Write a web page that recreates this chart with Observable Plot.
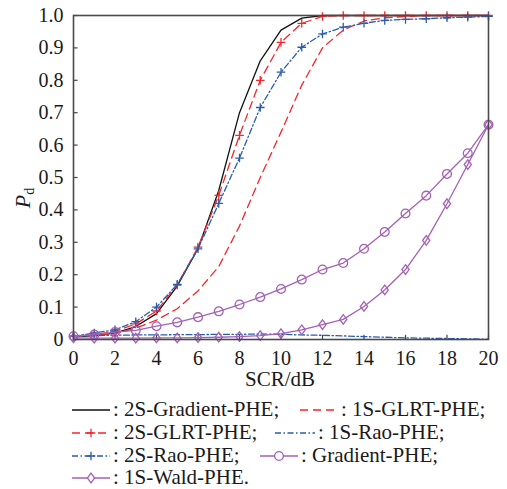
<!DOCTYPE html>
<html><head><meta charset="utf-8">
<script src="https://cdn.jsdelivr.net/npm/d3@7"></script>
<script src="https://cdn.jsdelivr.net/npm/@observablehq/plot@0.6"></script>
<style>
body{margin:0;background:#fff;font-family:'Liberation Serif',serif;}
#wrap{position:relative;width:507px;height:489px;overflow:hidden;}
.item{position:absolute;display:flex;align-items:center;height:23px;font-size:21px;color:#1a1a1a;white-space:nowrap;font-family:'Liberation Serif',serif;}
.item svg{display:block;margin-right:3px;}
</style></head><body><div id="wrap"><div id="chart"></div></div>
<script>
const scr = [0,1,2,3,4,5,6,7,8,9,10,11,12,13,14,15,16,17,18,19,20];
const grad2S   = [0.008,0.012,0.02,0.04,0.08,0.165,0.28,0.46,0.70,0.86,0.955,0.992,1,1,1,1,1,1,1,1,1];
const glrt1S   = [0.01,0.012,0.018,0.035,0.06,0.095,0.15,0.225,0.35,0.50,0.64,0.785,0.90,0.955,0.983,0.993,0.997,1,1,1,1];
const glrt2S   = [0.01,0.015,0.025,0.048,0.088,0.168,0.285,0.445,0.63,0.80,0.917,0.976,0.997,1,1,1,1,1,1,1,1];
const rao1S    = [0.01,0.012,0.013,0.014,0.014,0.015,0.015,0.016,0.016,0.017,0.016,0.014,0.013,0.011,0.009,0.007,0.005,0.004,0.003,0.002,0.001];
const rao2S    = [0.01,0.02,0.03,0.055,0.10,0.17,0.28,0.42,0.56,0.716,0.825,0.902,0.943,0.964,0.976,0.985,0.988,0.99,0.993,0.995,0.997];
const gradient = [0.01,0.015,0.023,0.028,0.041,0.053,0.069,0.087,0.108,0.131,0.156,0.185,0.216,0.236,0.28,0.332,0.389,0.444,0.511,0.575,0.663];
const wald1S   = [0.005,0.004,0.004,0.004,0.005,0.005,0.006,0.007,0.009,0.012,0.018,0.03,0.046,0.062,0.102,0.153,0.216,0.306,0.419,0.54,0.663];
const xTicks = [0,2,4,6,8,10,12,14,16,18,20];
const yTicks = [0,0.1,0.2,0.3,0.4,0.5,0.6,0.7,0.8,0.9,1.0];
const legendNames = ["2S-Gradient-PHE","1S-GLRT-PHE","2S-GLRT-PHE","1S-Rao-PHE","2S-Rao-PHE","Gradient-PHE","1S-Wald-PHE"];

const FONT = "'Liberation Serif', serif";
const plusSym = {draw(ctx){const r=4.3; ctx.moveTo(-r,0); ctx.lineTo(r,0); ctx.moveTo(0,-r); ctx.lineTo(0,r);}};
const diamondSym = {draw(ctx){const h=4.8,w=3.6; ctx.moveTo(0,-h); ctx.lineTo(w,0); ctx.lineTo(0,h); ctx.lineTo(-w,0); ctx.closePath();}};
const circleSym = {draw(ctx){const r=4.4; ctx.moveTo(r,0); ctx.arc(0,0,r,0,2*Math.PI);}};

const RED="#f5262b", BLUE="#2a5cad", PURPLE="#a461b5", BLACK="#111";
const series = [
  {name:legendNames[0], values:grad2S, stroke:BLACK, dash:null, sym:null},
  {name:legendNames[1], values:glrt1S, stroke:RED, dash:"8,5", sym:null},
  {name:legendNames[2], values:glrt2S, stroke:RED, dash:"8,5", sym:plusSym},
  {name:legendNames[3], values:rao1S, stroke:BLUE, dash:"6,2.5,1.5,2.5", sym:null},
  {name:legendNames[4], values:rao2S, stroke:BLUE, dash:"6,2.5,1.5,2.5", sym:plusSym},
  {name:legendNames[5], values:gradient, stroke:PURPLE, dash:null, sym:circleSym},
  {name:legendNames[6], values:wald1S, stroke:PURPLE, dash:null, sym:diamondSym}
];

const marks = [];
for (const s of series) {
  const data = scr.map((x,i)=>({x, y:s.values[i]}));
  marks.push(Plot.line(data,{x:"x",y:"y",stroke:s.stroke,strokeWidth:1.3,strokeDasharray:s.dash}));
  if (s.sym) marks.push(Plot.dot(data,{x:"x",y:"y",symbol:s.sym,r:4,fill:"none",stroke:s.stroke,strokeWidth:1.3}));
}

const chart = Plot.plot({
  width:507, height:395,
  marginLeft:73, marginRight:19, marginTop:15, marginBottom:56,
  style:{fontFamily:FONT, fontSize:"20px", color:"#1a1a1a", background:"#fff"},
  x:{domain:[0,20]},
  y:{domain:[0,1]},
  marks:[
    Plot.axisX({ticks:xTicks, tickSize:0, tickPadding:11, label:null, fontSize:20, fontFamily:FONT}),
    Plot.axisY({ticks:yTicks, tickSize:0, tickPadding:10, label:null, fontSize:20, fontFamily:FONT, tickFormat:d=>d===0?"0":d.toFixed(1)}),
    Plot.ruleX(xTicks,{x:d=>d, y1:0, y2:0.013, stroke:"#444", strokeWidth:1.2}),
    Plot.ruleY(yTicks,{y:d=>d, x1:0, x2:0.22, stroke:"#444", strokeWidth:1.2}),
    ...marks,
    Plot.frame({stroke:"#4a4a4a", strokeWidth:1.6})
  ]
});
document.getElementById("chart").appendChild(chart);

const svg = d3.select(chart);
svg.attr("font-family", FONT).style("font-family", FONT);
svg.append("text").attr("x",280).attr("y",386).attr("text-anchor","middle")
  .attr("font-size",21).attr("fill","#1a1a1a").text("SCR/dB");
const yl = svg.append("text").attr("transform","translate(30,198) rotate(-90)")
  .attr("font-size",22).attr("fill","#1a1a1a");
yl.append("tspan").attr("font-style","italic").text("P");
yl.append("tspan").attr("font-size",14).attr("dy",4).text("d");
svg.selectAll("text").attr("font-family", FONT).style("font-family", FONT);

// legend
const layout = [
  {i:0,left:72,top:398,w:38},{i:1,left:300,top:398,w:38},
  {i:2,left:72,top:421,w:38},{i:3,left:275,top:421,w:40},
  {i:4,left:72,top:444,w:38},{i:5,left:260,top:444,w:38},
  {i:6,left:72,top:466,w:38}
];
const wrap = document.getElementById("wrap");
for (const L of layout) {
  const s = series[L.i];
  const div = document.createElement("div");
  div.className="item"; div.style.left=L.left+"px"; div.style.top=L.top+"px";
  div.style.fontFamily = FONT;
  const g = d3.create("svg").attr("width",L.w).attr("height",20);
  g.append("line").attr("x1",0).attr("x2",L.w).attr("y1",10).attr("y2",10)
    .attr("stroke",s.stroke).attr("stroke-width",1.3).attr("stroke-dasharray",s.dash);
  if (s.sym) g.append("path").attr("transform",`translate(${L.w/2},10)`)
    .attr("d",d3.symbol(s.sym)()).attr("fill","#fff").attr("stroke",s.stroke).attr("stroke-width",1.3);
  div.appendChild(g.node());
  const sp = document.createElement("span");
  sp.textContent = ": " + s.name + (L.i===6?".":";");
  div.appendChild(sp);
  wrap.appendChild(div);
}
</script></body></html>
